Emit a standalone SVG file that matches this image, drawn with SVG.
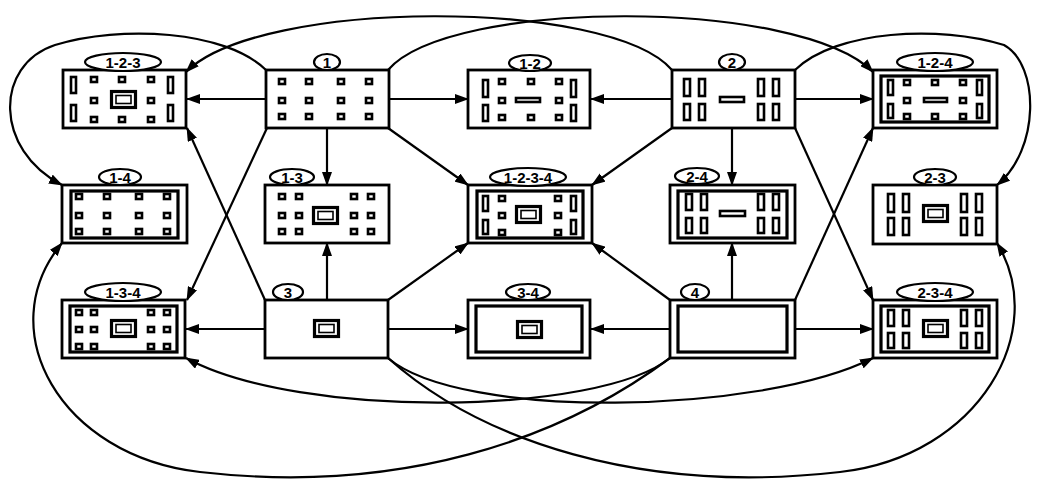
<svg xmlns="http://www.w3.org/2000/svg" width="1039" height="489" viewBox="0 0 1039 489">
<style>
.box{fill:#fff;stroke:#000;stroke-width:2.8}
.inner{fill:none;stroke:#000;stroke-width:3.2}
.it{fill:#fff;stroke:#000;stroke-width:2.6}
.lbl{fill:#fff;stroke:#000;stroke-width:2.2}
.t{font-family:"Liberation Sans",Arial,sans-serif;font-weight:bold;font-size:15px;text-anchor:middle;fill:#000}
.c{fill:none;stroke:#000;stroke-width:2.2}
.a{marker-end:url(#ah)}
</style>
<defs>
<marker id="ah" markerUnits="userSpaceOnUse" markerWidth="14" markerHeight="10" refX="13" refY="5" orient="auto" viewBox="0 0 14 10"><path d="M0,0 L14,5 L0,10 z" fill="#000"/></marker>
<rect id="sq" width="6" height="5" fill="#fff" stroke="#000" stroke-width="2.6"/>
<g id="cs" fill="#fff" stroke="#000"><rect x="1.5" y="1.5" width="24" height="16" stroke-width="3.2"/><rect x="6" y="5.5" width="15" height="8" stroke-width="1.6"/></g>
</defs>
<rect width="1039" height="489" fill="#fff"/>

<g id="connectors" class="c">
<path class="a" d="M266,99 L187,99"/>
<path class="a" d="M389,99 L468,99"/>
<path class="a" d="M327,128 L327,185"/>
<path class="a" d="M388,128 L468,185"/>
<path class="a" d="M267,128 L187,300"/>
<path class="a" d="M265,300 L187,128"/>
<path class="a" d="M672,99 L591,99"/>
<path class="a" d="M795,99 L873,99"/>
<path class="a" d="M732,128 L732,185"/>
<path class="a" d="M672,128 L592,185"/>
<path class="a" d="M795,128 L873,300"/>
<path class="a" d="M795,300 L873,128"/>
<path class="a" d="M327,300 L327,243"/>
<path class="a" d="M265,329 L186,329"/>
<path class="a" d="M388,329 L468,329"/>
<path class="a" d="M388,300 L468,243"/>
<path class="a" d="M670,329 L591,329"/>
<path class="a" d="M732,300 L732,243"/>
<path class="a" d="M670,300 L592,243"/>
<path class="a" d="M795,329 L873,329"/>
<path class="a" d="M266,70 C225,30 120,25 55,45 C-6,65 -6,150 62,185"/>
<path class="a" d="M795,70 C836,30 940,25 1004,45 C1040,65 1040,150 997,185"/>
<path class="a" d="M388,70 C450,-2 800,-2 873,72"/>
<path class="a" d="M672,70 C610,-2 260,-2 186,72"/>
<path class="a" d="M670,358 C600,415 300,420 186,358"/>
<path class="a" d="M388,358 C460,420 760,415 873,358"/>
<path class="a" d="M670,358 C560,440 400,495 200,472 C60,456 -10,330 62,243"/>
<path class="a" d="M388,358 C480,440 640,495 840,472 C980,456 1050,330 997,243"/>
</g>

<g id="n123" transform="translate(63,70)">
<rect class="box" width="123" height="58"/>
<rect class="it" x="8" y="7" width="5" height="16"/><rect class="it" x="8" y="35" width="5" height="16"/>
<rect class="it" x="105" y="7" width="5" height="16"/><rect class="it" x="105" y="35" width="5" height="16"/>
<use href="#sq" x="28" y="7"/><use href="#sq" x="56" y="7"/><use href="#sq" x="85" y="7"/>
<use href="#sq" x="28" y="28"/><use href="#sq" x="85" y="28"/>
<use href="#sq" x="28" y="47"/><use href="#sq" x="56" y="47"/><use href="#sq" x="85" y="47"/>
<use href="#cs" x="47" y="20"/>
<ellipse class="lbl" cx="60" cy="-8" rx="38" ry="9"/><text class="t" x="60" y="-2.5">1-2-3</text>
</g>

<g id="n1" transform="translate(266,70)">
<rect class="box" width="123" height="58"/>
<use href="#sq" x="13" y="9"/><use href="#sq" x="40" y="9"/><use href="#sq" x="72" y="9"/><use href="#sq" x="100" y="9"/>
<use href="#sq" x="13" y="28"/><use href="#sq" x="40" y="28"/><use href="#sq" x="72" y="28"/><use href="#sq" x="100" y="28"/>
<use href="#sq" x="13" y="44"/><use href="#sq" x="40" y="44"/><use href="#sq" x="72" y="44"/><use href="#sq" x="100" y="44"/>
<ellipse class="lbl" cx="61" cy="-8" rx="13" ry="8"/><text class="t" x="61" y="-2.5">1</text>
</g>

<g id="n12" transform="translate(468,70)">
<rect class="box" width="122" height="58"/>
<rect class="it" x="15" y="10" width="5" height="17"/><rect class="it" x="15" y="35" width="5" height="16"/>
<rect class="it" x="103" y="10" width="5" height="17"/><rect class="it" x="103" y="35" width="5" height="16"/>
<use href="#sq" x="31" y="9"/><use href="#sq" x="60" y="9"/><use href="#sq" x="88" y="9"/>
<use href="#sq" x="31" y="28"/><use href="#sq" x="88" y="28"/>
<use href="#sq" x="31" y="45"/><use href="#sq" x="60" y="45"/><use href="#sq" x="88" y="45"/>
<rect class="it" x="48" y="28" width="24" height="4"/>
<ellipse class="lbl" cx="62" cy="-7" rx="21" ry="8"/><text class="t" x="62" y="-1.5">1-2</text>
</g>

<g id="n2" transform="translate(672,70)">
<rect class="box" width="123" height="58"/>
<rect class="it" x="12" y="9" width="6" height="17"/><rect class="it" x="27" y="9" width="6" height="17"/>
<rect class="it" x="12" y="34" width="6" height="16"/><rect class="it" x="27" y="34" width="6" height="16"/>
<rect class="it" x="86" y="9" width="6" height="17"/><rect class="it" x="101" y="9" width="6" height="17"/>
<rect class="it" x="86" y="34" width="6" height="16"/><rect class="it" x="101" y="34" width="6" height="16"/>
<rect class="it" x="48" y="27" width="24" height="5"/>
<ellipse class="lbl" cx="60" cy="-8" rx="13" ry="8"/><text class="t" x="60" y="-2.5">2</text>
</g>

<g id="n124" transform="translate(873,70)">
<rect class="box" width="124" height="58"/>
<rect class="inner" x="8" y="6" width="108" height="46"/>
<rect class="it" x="15" y="10" width="5" height="15"/><rect class="it" x="15" y="34" width="5" height="14"/>
<rect class="it" x="104" y="10" width="5" height="15"/><rect class="it" x="104" y="34" width="5" height="14"/>
<use href="#sq" x="31" y="10"/><use href="#sq" x="59" y="10"/><use href="#sq" x="87" y="10"/>
<use href="#sq" x="31" y="28"/><use href="#sq" x="87" y="28"/>
<use href="#sq" x="31" y="44"/><use href="#sq" x="59" y="44"/><use href="#sq" x="87" y="44"/>
<rect class="it" x="51" y="28" width="23" height="4"/>
<ellipse class="lbl" cx="62" cy="-8" rx="38" ry="9"/><text class="t" x="62" y="-2.5">1-2-4</text>
</g>

<g id="n14" transform="translate(62,185)">
<rect class="box" width="125" height="58"/>
<rect class="inner" x="9" y="6" width="107" height="47"/>
<use href="#sq" x="14" y="9"/><use href="#sq" x="42" y="9"/><use href="#sq" x="74" y="9"/><use href="#sq" x="102" y="9"/>
<use href="#sq" x="14" y="28"/><use href="#sq" x="42" y="28"/><use href="#sq" x="74" y="28"/><use href="#sq" x="102" y="28"/>
<use href="#sq" x="14" y="44"/><use href="#sq" x="42" y="44"/><use href="#sq" x="74" y="44"/><use href="#sq" x="102" y="44"/>
<ellipse class="lbl" cx="58" cy="-8" rx="21" ry="8"/><text class="t" x="58" y="-2.5">1-4</text>
</g>

<g id="n13" transform="translate(265,185)">
<rect class="box" width="124" height="58"/>
<use href="#sq" x="14" y="9"/><use href="#sq" x="31" y="9"/><use href="#sq" x="86" y="9"/><use href="#sq" x="103" y="9"/>
<use href="#sq" x="14" y="28"/><use href="#sq" x="31" y="28"/><use href="#sq" x="86" y="28"/><use href="#sq" x="103" y="28"/>
<use href="#sq" x="14" y="44"/><use href="#sq" x="31" y="44"/><use href="#sq" x="86" y="44"/><use href="#sq" x="103" y="44"/>
<use href="#cs" x="47" y="21"/>
<ellipse class="lbl" cx="27" cy="-8" rx="22" ry="8"/><text class="t" x="27" y="-2.5">1-3</text>
</g>

<g id="n1234" transform="translate(468,185)">
<rect class="box" width="124" height="58"/>
<rect class="inner" x="9" y="6" width="106" height="47"/>
<rect class="it" x="15" y="11" width="5" height="15"/><rect class="it" x="15" y="35" width="5" height="14"/>
<rect class="it" x="103" y="11" width="5" height="15"/><rect class="it" x="103" y="35" width="5" height="14"/>
<use href="#sq" x="31" y="11"/><use href="#sq" x="87" y="11"/>
<use href="#sq" x="31" y="28"/><use href="#sq" x="87" y="28"/>
<use href="#sq" x="31" y="45"/><use href="#sq" x="87" y="45"/>
<use href="#cs" x="47" y="20"/>
<ellipse class="lbl" cx="60" cy="-8" rx="38" ry="9"/><text class="t" x="60" y="-2.5">1-2-3-4</text>
</g>

<g id="n24" transform="translate(670,185)">
<rect class="box" width="125" height="58"/>
<rect class="inner" x="8" y="6" width="109" height="47"/>
<rect class="it" x="16" y="9" width="6" height="16"/><rect class="it" x="31" y="9" width="6" height="16"/>
<rect class="it" x="16" y="33" width="6" height="15"/><rect class="it" x="31" y="33" width="6" height="15"/>
<rect class="it" x="88" y="9" width="6" height="16"/><rect class="it" x="103" y="9" width="6" height="16"/>
<rect class="it" x="88" y="33" width="6" height="15"/><rect class="it" x="103" y="33" width="6" height="15"/>
<rect class="it" x="50" y="26" width="25" height="5"/>
<ellipse class="lbl" cx="27" cy="-9" rx="22" ry="8"/><text class="t" x="27" y="-3.5">2-4</text>
</g>

<g id="n23" transform="translate(873,185)">
<rect class="box" width="124" height="59"/>
<rect class="it" x="15" y="9" width="6" height="18"/><rect class="it" x="30" y="9" width="6" height="18"/>
<rect class="it" x="15" y="33" width="6" height="17"/><rect class="it" x="30" y="33" width="6" height="17"/>
<rect class="it" x="88" y="9" width="6" height="18"/><rect class="it" x="103" y="9" width="6" height="18"/>
<rect class="it" x="88" y="33" width="6" height="17"/><rect class="it" x="103" y="33" width="6" height="17"/>
<use href="#cs" x="49" y="19"/>
<ellipse class="lbl" cx="62" cy="-8" rx="21" ry="8"/><text class="t" x="62" y="-2.5">2-3</text>
</g>

<g id="n134" transform="translate(62,300)">
<rect class="box" width="123" height="58"/>
<rect class="inner" x="8" y="6" width="107" height="46"/>
<use href="#sq" x="14" y="10"/><use href="#sq" x="29" y="10"/><use href="#sq" x="86" y="10"/><use href="#sq" x="102" y="10"/>
<use href="#sq" x="14" y="27"/><use href="#sq" x="29" y="27"/><use href="#sq" x="86" y="27"/><use href="#sq" x="102" y="27"/>
<use href="#sq" x="14" y="44"/><use href="#sq" x="29" y="44"/><use href="#sq" x="86" y="44"/><use href="#sq" x="102" y="44"/>
<use href="#cs" x="48" y="19"/>
<ellipse class="lbl" cx="61" cy="-8" rx="38" ry="9"/><text class="t" x="61" y="-2.5">1-3-4</text>
</g>

<g id="n3" transform="translate(265,300)">
<rect class="box" width="123" height="58"/>
<use href="#cs" x="48" y="19"/>
<ellipse class="lbl" cx="23" cy="-8" rx="15" ry="8"/><text class="t" x="23" y="-2.5">3</text>
</g>

<g id="n34" transform="translate(468,300)">
<rect class="box" width="122" height="58"/>
<rect class="inner" x="8" y="6" width="106" height="46"/>
<use href="#cs" x="48" y="20"/>
<ellipse class="lbl" cx="60" cy="-8" rx="22" ry="8"/><text class="t" x="60" y="-2.5">3-4</text>
</g>

<g id="n4" transform="translate(670,300)">
<rect class="box" width="125" height="58"/>
<rect class="inner" x="8" y="6" width="109" height="46"/>
<ellipse class="lbl" cx="25" cy="-8" rx="14" ry="8"/><text class="t" x="25" y="-2.5">4</text>
</g>

<g id="n234" transform="translate(873,300)">
<rect class="box" width="124" height="58"/>
<rect class="inner" x="8" y="6" width="108" height="46"/>
<rect class="it" x="15" y="10" width="6" height="16"/><rect class="it" x="30" y="10" width="6" height="16"/>
<rect class="it" x="15" y="33" width="6" height="15"/><rect class="it" x="30" y="33" width="6" height="15"/>
<rect class="it" x="88" y="10" width="6" height="16"/><rect class="it" x="103" y="10" width="6" height="16"/>
<rect class="it" x="88" y="33" width="6" height="15"/><rect class="it" x="103" y="33" width="6" height="15"/>
<use href="#cs" x="49" y="19"/>
<ellipse class="lbl" cx="62" cy="-8" rx="38" ry="9"/><text class="t" x="62" y="-2.5">2-3-4</text>
</g>
</svg>
